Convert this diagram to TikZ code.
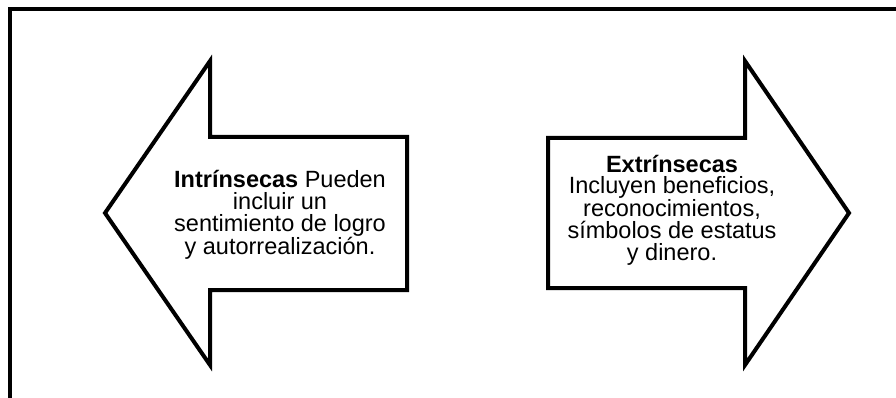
\documentclass[tikz,border=0pt]{standalone}
\usepackage{fontspec}
\setmainfont{Liberation Sans}
\usepackage{tikz}
\usetikzlibrary{positioning, calc}

\begin{document}
\begin{tikzpicture}[%
    x=1pt, y=-1pt,          % pixel-like units, y downwards
    line width=4pt,         % thick outlines
    frameline/.style={line width=4pt, line cap=butt},
    bigarrow/.style={draw=black, fill=white, line join=miter},
    arrowtext/.style={align=center, font=\fontsize{23.5}{21.7}\selectfont, inner sep=0pt}
]

    % ==========================================
    % 1. Canvas and frame
    % ==========================================
    \useasboundingbox (0,0) rectangle (896,398);
    \coordinate (cornerTL) at (10,9);
    \coordinate (frameR) at (896,9);
    \coordinate (frameB) at (10,398);
    \draw[frameline] (frameB) -- (cornerTL) -- (frameR);

    % ==========================================
    % 2. Arrows
    % ==========================================
    % left arrow (pointing left)
    \draw[bigarrow] (407,137) -- (210,137) -- (210,61) -- (105,213)
        -- (210,365) -- (210,290) -- (407,290) -- cycle;
    % right arrow (pointing right)
    \draw[bigarrow] (548,138) -- (745,138) -- (745,61) -- (849,213)
        -- (745,365) -- (745,288) -- (548,288) -- cycle;

    % ==========================================
    % 3. Texts
    % ==========================================
    \node[arrowtext] (intr) at (280,215)
        {\textbf{Intrínsecas} Pueden\\incluir un\\sentimiento de logro\\y autorrealización.};
    \node[arrowtext] (extr) at (672,210)
        {\textbf{Extrínsecas}\\Incluyen beneficios,\\reconocimientos,\\símbolos de estatus\\y dinero.};

\end{tikzpicture}
\end{document}
